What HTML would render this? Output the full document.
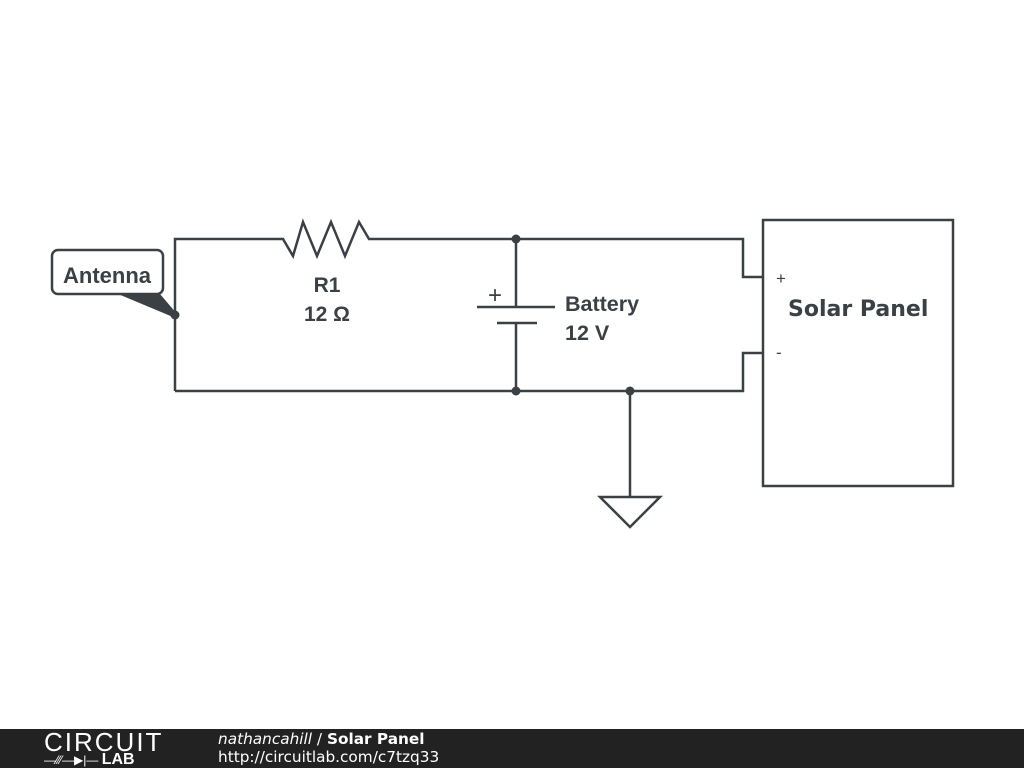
<!DOCTYPE html>
<html><head><style>
body{margin:0;width:1024px;height:768px;background:#fff;overflow:hidden;position:relative;font-family:"Liberation Sans",sans-serif}
#foot{position:absolute;left:0;top:729px;width:1024px;height:39px;background:#222}
</style></head><body>
<svg width="1024" height="729" style="position:absolute;left:0;top:0">
<g stroke="#3b4044" stroke-width="2.5" fill="none" stroke-linejoin="miter">
<polyline points="175,391 175,239 283,239 293,256 303,222 317,256 331,222 345,256 359,222 369,239 743,239 743,277 763,277"/>
<polyline points="175,391 743,391 743,353 763,353"/>
<line x1="516" y1="239" x2="516" y2="307"/>
<line x1="477" y1="307" x2="555" y2="307"/>
<line x1="497" y1="323" x2="537" y2="323"/>
<line x1="516" y1="323" x2="516" y2="391"/>
<line x1="630" y1="391" x2="630" y2="497"/>
<polygon points="600,497 660,497 630,527"/>
<rect x="763" y="220" width="190" height="266"/>
<rect x="52" y="250" width="111" height="44" rx="6"/>
</g>
<g fill="#3b4044">
<circle cx="175" cy="315" r="4.5"/><circle cx="516" cy="239" r="4.5"/><circle cx="516" cy="391" r="4.5"/><circle cx="630" cy="391" r="4.5"/>
<polygon points="118,294 160,294 177,314 173,317"/>
</g>
<g fill="#3b4044" font-family="Liberation Sans,sans-serif" font-weight="bold">
<text x="107" y="283" font-size="22" text-anchor="middle">Antenna</text>
<text x="327" y="292" font-size="21" text-anchor="middle">R1</text>
<text x="327" y="321" font-size="21" text-anchor="middle">12 Ω</text>
<text x="565" y="311" font-size="21.5">Battery</text>
<text x="565" y="340" font-size="21.5">12 V</text>
<text x="788" y="316" font-size="22" font-family="DejaVu Sans,sans-serif">Solar Panel</text>
<text x="495" y="303" font-size="24" font-weight="normal" text-anchor="middle">+</text>
<text x="776" y="284" font-size="17" font-weight="normal">+</text>
<text x="776" y="358" font-size="17" font-weight="normal">-</text>
</g>
</svg>
<div id="foot">
<div style="position:absolute;left:44px;top:1px;color:#fff;font-size:26px;letter-spacing:2px;font-weight:200;line-height:25px">CIRCUIT</div>
<div style="position:absolute;left:44px;top:23px;color:#fff;font-size:12px;line-height:15px">—⁄⁄⁄—▶|— <b style="font-size:16px">LAB</b></div>
<div style="position:absolute;left:218px;top:1px;color:#fff;font-family:'DejaVu Sans',sans-serif;font-size:15.3px;line-height:18px"><i>nathancahill</i> / <b>Solar Panel</b><br>http://circuitlab.com/c7tzq33</div>
</div>
</body></html>
